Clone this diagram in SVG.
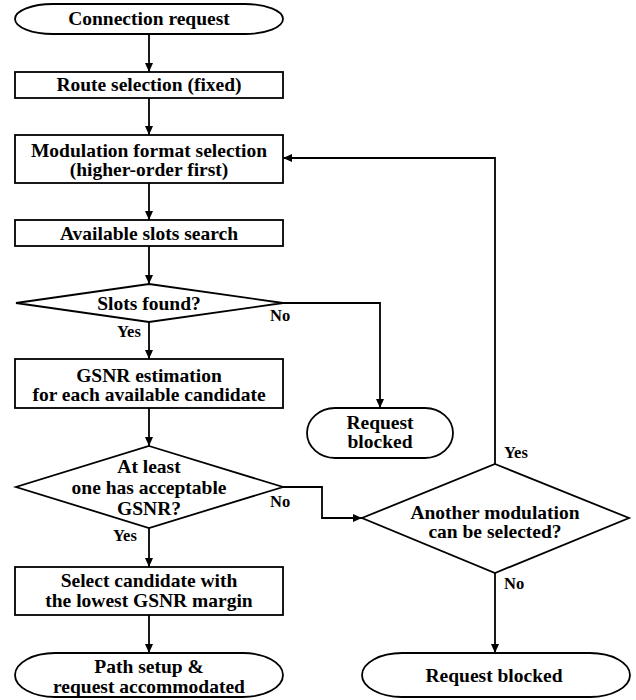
<svg xmlns="http://www.w3.org/2000/svg" width="636" height="700" viewBox="0 0 636 700">
  <defs>
    <marker id="arrow" markerWidth="10" markerHeight="10" refX="9" refY="4" orient="auto" markerUnits="userSpaceOnUse">
      <path d="M0,0 L9,4 L0,8 Z" fill="#000"/>
    </marker>
    <style>
      .shape { fill: #fff; stroke: #000; stroke-width: 1.8; }
      .link { fill: none; stroke: #000; stroke-width: 1.8; marker-end: url(#arrow); }
      text { font-family: "Liberation Serif", "Times New Roman", serif; font-weight: bold; fill: #000; }
      .t { font-size: 19.5px; text-anchor: middle; }
      .lbl { font-size: 16.5px; }
    </style>
  </defs>
  <rect width="636" height="700" fill="#fff"/>

  <!-- connectors -->
  <g id="connectors">
    <line class="link" x1="149" y1="34" x2="149" y2="72"/>
    <line class="link" x1="149" y1="98" x2="149" y2="135"/>
    <line class="link" x1="149" y1="183" x2="149" y2="220"/>
    <line class="link" x1="149" y1="246" x2="149" y2="284"/>
    <line class="link" x1="149" y1="322" x2="149" y2="359"/>
    <polyline class="link" points="283,303 380,303 380,408"/>
    <line class="link" x1="149" y1="408" x2="149" y2="446"/>
    <line class="link" x1="149" y1="528" x2="149" y2="567"/>
    <polyline class="link" points="283,487 322,487 322,518 362,518"/>
    <polyline class="link" points="495,464 495,158 283,158"/>
    <line class="link" x1="495" y1="573" x2="495" y2="653"/>
    <line class="link" x1="149" y1="615" x2="149" y2="653"/>
  </g>

  <g id="start">
    <rect class="shape" x="15" y="4" width="268" height="30" rx="38" ry="15"/>
    <text class="t" x="149" y="25">Connection request</text>
  </g>

  <g id="route">
    <rect class="shape" x="15" y="72" width="268" height="26"/>
    <text class="t" x="149" y="91">Route selection (fixed)</text>
  </g>

  <g id="modulation">
    <rect class="shape" x="15" y="135" width="268" height="48"/>
    <text class="t" x="149" y="157">Modulation format selection</text>
    <text class="t" x="149" y="176">(higher-order first)</text>
  </g>

  <g id="slots-search">
    <rect class="shape" x="15" y="220" width="268" height="26"/>
    <text class="t" x="149" y="240">Available slots search</text>
  </g>

  <g id="slots-found">
    <polygon class="shape" points="149,284 283,303 149,322 16,303"/>
    <text class="t" x="149" y="310">Slots found?</text>
    <text class="lbl" x="117" y="337">Yes</text>
    <text class="lbl" x="270" y="321">No</text>
  </g>

  <g id="gsnr-estimation">
    <rect class="shape" x="15" y="359" width="268" height="49"/>
    <text class="t" x="149" y="382">GSNR estimation</text>
    <text class="t" x="149" y="401">for each available candidate</text>
  </g>

  <g id="blocked-slots">
    <rect class="shape" x="307" y="408" width="146" height="50" rx="28" ry="25"/>
    <text class="t" x="380" y="429">Request</text>
    <text class="t" x="380" y="448">blocked</text>
  </g>

  <g id="gsnr-check">
    <polygon class="shape" points="149,446 283,487 149,528 16,487"/>
    <text class="t" x="149" y="473">At least</text>
    <text class="t" x="149" y="494">one has acceptable</text>
    <text class="t" x="149" y="515">GSNR?</text>
    <text class="lbl" x="113" y="541">Yes</text>
    <text class="lbl" x="270" y="507">No</text>
  </g>

  <g id="another-modulation">
    <polygon class="shape" points="495,464 629,518 495,573 362,518"/>
    <text class="t" x="495" y="519">Another modulation</text>
    <text class="t" x="495" y="538">can be selected?</text>
    <text class="lbl" x="504" y="458">Yes</text>
    <text class="lbl" x="504" y="589">No</text>
  </g>

  <g id="select-candidate">
    <rect class="shape" x="15" y="567" width="268" height="48"/>
    <text class="t" x="149" y="587">Select candidate with</text>
    <text class="t" x="149" y="607">the lowest GSNR margin</text>
  </g>

  <g id="accommodated">
    <rect class="shape" x="15" y="653" width="268" height="44" rx="40" ry="22"/>
    <text class="t" x="149" y="673">Path setup &amp;</text>
    <text class="t" x="149" y="693">request accommodated</text>
  </g>

  <g id="blocked-final">
    <rect class="shape" x="362" y="653" width="268" height="44" rx="40" ry="22"/>
    <text class="t" x="494" y="682">Request blocked</text>
  </g>
</svg>
